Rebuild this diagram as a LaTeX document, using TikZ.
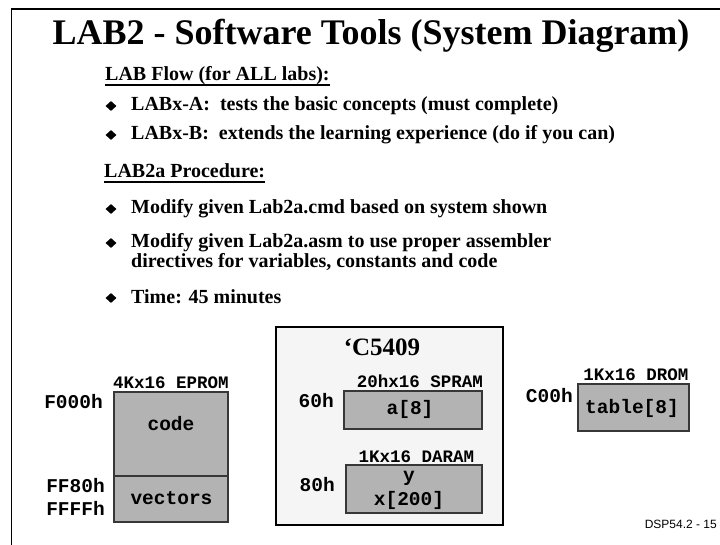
\documentclass[tikz,border=0pt]{standalone}
\usepackage{fontspec}
\setmainfont{Liberation Serif}
\newfontfamily\monof{Liberation Mono}
\newfontfamily\sansf{Liberation Sans}
\usetikzlibrary{shapes.geometric}
\definecolor{boxgray}{RGB}{179,179,179}
\definecolor{chipbg}{RGB}{245,245,245}
\definecolor{edgegray}{RGB}{55,55,55}
\begin{document}
\begin{tikzpicture}[x=1pt,y=-1pt,
  txt/.style={inner sep=0pt, anchor=base west, font=\bfseries\fontsize{20}{24}\selectfont},
  bul/.style={diamond, fill=black, draw=none, inner sep=0pt, minimum width=11pt, minimum height=10pt},
  uline/.style={line width=1.3pt},
  lbl/.style={inner sep=0pt, anchor=base, font=\monof\bfseries\fontsize{17.5}{20}\selectfont},
  addr/.style={inner sep=0pt, anchor=base east, font=\monof\bfseries\fontsize{19.5}{22}\selectfont},
  cont/.style={inner sep=0pt, anchor=base, font=\monof\bfseries\fontsize{19.5}{22}\selectfont},
  membox/.style={draw=edgegray, fill=boxgray, line width=1.2pt},
  chipbox/.style={draw=black, fill=chipbg, line width=1.2pt}]
\useasboundingbox (0,0) rectangle (720,545);
% frame
\draw[line width=1.8pt] (11.5,545) -- (11.5,9) -- (720,9);
% title
\node[inner sep=0pt, anchor=base, font=\bfseries\fontsize{36}{40}\selectfont] (title) at (371,45) {LAB2 - Software Tools (System Diagram)};
% LAB flow
\node[txt] (h1) at (105,81) {LAB Flow (for ALL labs):};
\draw[uline] ([yshift=-4pt]h1.base west) -- ([yshift=-4pt]h1.base east);
\node[bul] (d1) at (111,106) {};
\node[txt] (t1) at (131,111) {LABx-A:\ \ tests the basic concepts (must complete)};
\node[bul] (d2) at (111,135) {};
\node[txt] (t2) at (131,140) {LABx-B:\ \ extends the learning experience (do if you can)};
% procedure
\node[txt] (h2) at (104,178) {LAB2a Procedure:};
\draw[uline] ([yshift=-4pt]h2.base west) -- ([yshift=-4pt]h2.base east);
\node[bul] (d3) at (111,209) {};
\node[txt] (t3) at (131,214) {Modify given Lab2a.cmd based on system shown};
\node[bul] (d4) at (111,243) {};
\node[txt] (t4a) at (131,248) {Modify given Lab2a.asm to use proper assembler};
\node[txt] (t4b) at (131,268) {directives for variables, constants and code};
\node[bul] (d5) at (111,298) {};
\node[txt] (t5) at (131,303) {Time: 45 minutes};
% EPROM
\node[lbl] (eproml) at (171,388) {4Kx16 EPROM};
\draw[membox] (114,392) rectangle (228,476);
\draw[membox] (114,476) rectangle (228,522);
\node[addr] (a1) at (103,408) {F000h};
\node[cont] (code) at (171,430) {code};
\node[addr] (a2) at (105,492) {FF80h};
\node[addr] (a3) at (105,515) {FFFFh};
\node[cont] (vec) at (171.5,504) {vectors};
% C5409
\draw[chipbox] (276,327) rectangle (503,525);
\node[inner sep=0pt, anchor=base, font=\bfseries\fontsize{25}{28}\selectfont] (chip) at (382,355) {‘C5409};
\node[lbl] (spl) at (420,387) {20hx16 SPRAM};
\draw[membox] (344,391) rectangle (482,429);
\node[addr] (a4) at (334,407) {60h};
\node[cont] (a8) at (410,414) {a[8]};
\node[lbl] (dal) at (416.5,462) {1Kx16 DARAM};
\draw[membox] (346,465) rectangle (482,513);
\node[addr] (a5) at (335,491) {80h};
\node[cont] (yv) at (409,481.5) {y};
\node[cont] (xv) at (409,505) {x[200]};
% DROM
\node[lbl] (drl) at (636,380) {1Kx16 DROM};
\draw[membox] (578,384) rectangle (689,431);
\node[addr] (a6) at (573,402) {C00h};
\node[cont] (tb) at (632,413) {table[8]};
% footer
\node[inner sep=0pt, anchor=base east, font=\sansf\fontsize{12}{14}\selectfont] (foot) at (717,528) {DSP54.2 - 15};
\end{tikzpicture}
\end{document}
